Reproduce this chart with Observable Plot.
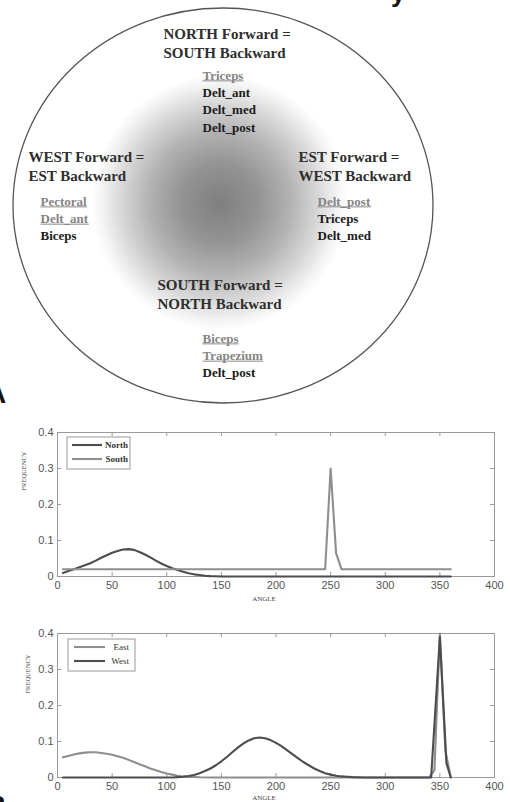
<!DOCTYPE html>
<html><head><meta charset="utf-8">
<script src="https://cdn.jsdelivr.net/npm/d3@7"></script>
<script src="https://cdn.jsdelivr.net/npm/@observablehq/plot@0.6"></script>
<style>
html,body{margin:0;padding:0;background:#fff;overflow:hidden;}
#page{position:relative;width:510px;height:802px;overflow:hidden;background:#fff;}
.abs{position:absolute;left:0;}
.frag{position:absolute;font-family:"Liberation Sans",Arial,sans-serif;font-weight:bold;color:#111;}
</style></head>
<body><div id="page"></div>
<script>
// ---------- DATA ----------
const directions = ["NORTH", "WEST", "EST", "SOUTH"];
const titleLine1 = ["NORTH Forward =", "WEST Forward =", "EST Forward =", "SOUTH Forward ="];
const titleLine2 = ["SOUTH Backward", "EST Backward", "WEST Backward", "NORTH Backward"];
const muscles = [
  ["Triceps", "Delt_ant", "Delt_med", "Delt_post"],
  ["Pectoral", "Delt_ant", "Biceps"],
  ["Delt_post", "Triceps", "Delt_med"],
  ["Biceps", "Trapezium", "Delt_post"]
];
const underlined = [
  [true, false, false, false],
  [true, true, false],
  [true, false, false],
  [true, true, false]
];

const xTicks = [0, 50, 100, 150, 200, 250, 300, 350, 400];
const yTicks = [0, 0.1, 0.2, 0.3, 0.4];

const northAngle = [5,10,15,20,25,30,35,40,45,50,55,60,65,70,75,80,85,90,95,100,105,110,115,120,125,130,135,140,145,150,360];
const northFreq  = [0.010,0.015,0.020,0.026,0.031,0.037,0.044,0.052,0.059,0.066,0.071,0.075,0.076,0.074,0.068,0.061,0.053,0.044,0.036,0.029,0.023,0.018,0.013,0.009,0.006,0.004,0.002,0.001,0.0005,0,0];
const southAngle = [5,245,250,255,260,360];
const southFreq  = [0.02,0.02,0.30,0.065,0.02,0.02];

const eastAngle = [5,10,15,20,25,30,35,40,45,50,55,60,65,70,75,80,85,90,95,100,105,110,115,120,130,140,340,345,350,355,360];
const eastFreq  = [0.056,0.060,0.064,0.067,0.069,0.070,0.070,0.068,0.066,0.063,0.059,0.055,0.049,0.043,0.037,0.031,0.025,0.020,0.015,0.011,0.008,0.005,0.003,0.002,0.0005,0,0,0.02,0.40,0.075,0];
const westAngle = [5,105,110,115,120,125,130,135,140,145,150,155,160,165,170,175,180,185,190,195,200,205,210,215,220,225,230,235,240,245,250,255,260,265,270,280,342,350,356,360];
const westFreq  = [0,0,0.001,0.002,0.004,0.007,0.012,0.018,0.025,0.034,0.045,0.057,0.070,0.083,0.094,0.103,0.109,0.111,0.109,0.104,0.096,0.087,0.076,0.065,0.054,0.043,0.034,0.025,0.018,0.012,0.008,0.005,0.003,0.002,0.001,0,0,0.39,0.04,0];

// ---------- LAYOUT ----------
const page = document.getElementById("page");
const serif = "'Liberation Serif','Times New Roman',serif";
const greyText = "#858585";
const groupLayout = {
  NORTH: {tx: 163, ty: 34, mx: 202, my: 75},
  WEST:  {tx: 28,  ty: 157, mx: 40, my: 201},
  EST:   {tx: 298, ty: 157, mx: 317, my: 201},
  SOUTH: {tx: 157, ty: 285, mx: 202, my: 338}
};
const titleGap = 18.5, muscleGap = 17.3;

const titleRows = [], muscleRows = [];
directions.forEach((d, i) => {
  const L = groupLayout[d];
  titleRows.push({x: L.tx, y: L.ty, text: titleLine1[i]});
  titleRows.push({x: L.tx, y: L.ty + titleGap, text: titleLine2[i]});
  muscles[i].forEach((m, j) => muscleRows.push({x: L.mx, y: L.my + j * muscleGap, text: m, u: underlined[i][j]}));
});

const diagram = Plot.plot({
  width: 510, height: 405, margin: 0,
  style: {background: "transparent", overflow: "visible"},
  x: {domain: [0, 510], range: [0, 510], axis: null},
  y: {domain: [0, 405], range: [0, 405], axis: null},
  marks: [
    Plot.dot([{x: 219, y: 202}], {x: "x", y: "y", r: 128, fill: "url(#glow)", stroke: "none"}),
    Plot.text(titleRows, {x: "x", y: "y", text: "text", textAnchor: "start", lineAnchor: "middle",
      fontFamily: serif, fontWeight: "bold", fontSize: 15, fill: "#2e2e2e"}),
    Plot.text(muscleRows.filter(d => !d.u), {x: "x", y: "y", text: "text", textAnchor: "start", lineAnchor: "middle",
      fontFamily: serif, fontWeight: "bold", fontSize: 13, fill: "#1c1c1c"}),
    Plot.text(muscleRows.filter(d => d.u), {x: "x", y: "y", text: "text", textAnchor: "start", lineAnchor: "middle",
      fontFamily: serif, fontWeight: "bold", fontSize: 13, fill: greyText})
  ]
});
diagram.classList.add("abs");
diagram.style.top = "0px";
page.appendChild(diagram);
{
  const s = d3.select(diagram);
  const defs = s.insert("defs", ":first-child");
  const g = defs.append("radialGradient").attr("id", "glow");
  [[0, "#7f7f7f"], [0.3, "#939393"], [0.55, "#b2b2b2"], [0.78, "#d9d9d9"], [0.92, "#f3f3f3"], [1, "#ffffff"]].forEach(([o, c]) =>
    g.append("stop").attr("offset", o).attr("stop-color", c));
  s.insert("ellipse", "defs + *").attr("cx", 223).attr("cy", 205.5).attr("rx", 210).attr("ry", 197.5)
    .attr("fill", "none").attr("stroke", "#555").attr("stroke-width", 1.3);
  // underline the grey muscle names (measured in page pixels)
  const svgRect = diagram.getBoundingClientRect();
  const uGroup = s.append("g").attr("stroke", "#8a8a8a").attr("stroke-width", 1);
  s.selectAll("text").each(function () {
    let el = this, fill = null;
    while (el && el !== diagram) { const f = el.getAttribute && el.getAttribute("fill"); if (f) { fill = f; break; } el = el.parentNode; }
    if (!fill || fill.toLowerCase() !== greyText) return;
    const r = this.getBoundingClientRect();
    const x0 = r.left - svgRect.left, x1 = r.right - svgRect.left;
    const yy = r.top - svgRect.top + 13.2;
    uGroup.append("line").attr("x1", x0).attr("x2", x1).attr("y1", yy).attr("y2", yy);
  });
}

// ---------- CHARTS ----------
function chart(opts) {
  const {names, colors, series, top, height, mt, mb, fyDx, fyDy, angleDy, legend} = opts;
  const rows = [];
  series.forEach((s, k) => s.angle.forEach((a, i) => rows.push({series: names[k], angle: a, freq: s.freq[i]})));
  const W = 510, ml = 57, mr = 16;
  const fw = W - ml - mr, fh = height - mt - mb, t = 4;
  const grid = "#9a9a9a";
  const svg = Plot.plot({
    width: W, height, marginLeft: ml, marginRight: mr, marginTop: mt, marginBottom: mb,
    style: {fontFamily: "'Liberation Sans',Arial,sans-serif", fontSize: "11px", color: "#555", background: "transparent", overflow: "visible"},
    x: {domain: [0, 400], ticks: xTicks, tickSize: 0, tickPadding: 5, tickFormat: d => String(d), label: null},
    y: {domain: [0, 0.4], ticks: yTicks, tickSize: 0, tickPadding: 4, tickFormat: d => d === 0 ? "0" : d.toFixed(1), label: null},
    color: {domain: names, range: colors},
    marks: [
      Plot.frame({stroke: grid}),
      Plot.ruleX(xTicks, {x: d => d, insetTop: fh - t, stroke: grid}),
      Plot.ruleX(xTicks, {x: d => d, insetBottom: fh - t, stroke: grid}),
      Plot.ruleY(yTicks, {y: d => d, insetRight: fw - t, stroke: grid}),
      Plot.ruleY(yTicks, {y: d => d, insetLeft: fw - t, stroke: grid}),
      Plot.line(rows, {x: "angle", y: "freq", z: "series", stroke: "series", strokeWidth: 2.1}),
      Plot.text(["ANGLE"], {frameAnchor: "bottom", dy: angleDy, dx: -12, text: d => d, fontFamily: serif, fontSize: 7, fill: "#444", lineAnchor: "middle"}),
      Plot.text(["FREQUENCY"], {frameAnchor: "left", dx: fyDx, dy: fyDy, rotate: -90, text: d => d, fontFamily: serif, fontSize: 6.5, fill: "#444", lineAnchor: "middle"})
    ]
  });
  svg.classList.add("abs");
  svg.style.top = top + "px";
  const s = d3.select(svg);
  const g = s.append("g");
  const b = legend.box;
  g.append("rect").attr("x", b.x).attr("y", b.y).attr("width", b.w).attr("height", b.h)
    .attr("fill", "#fff").attr("stroke", "#999").attr("stroke-width", 1);
  names.forEach((n, i) => {
    const y = legend.ys[i];
    g.append("line").attr("x1", legend.x1).attr("x2", legend.x2).attr("y1", y).attr("y2", y)
      .attr("stroke", colors[i]).attr("stroke-width", 2.1);
    g.append("text").attr("x", legend.tx).attr("y", y).attr("dy", "0.33em").attr("text-anchor", "end")
      .attr("font-family", serif).attr("font-size", 9).attr("font-weight", legend.weight).attr("fill", "#333").text(n);
  });
  page.appendChild(svg);
}

chart({
  names: ["North", "South"], colors: ["#4d4d4d", "#8e8e8e"],
  series: [{angle: northAngle, freq: northFreq}, {angle: southAngle, freq: southFreq}],
  top: 405, height: 200, mt: 27, mb: 29, fyDx: -34, fyDy: -14, angleDy: 22,
  legend: {box: {x: 67, y: 32, w: 63, h: 32}, x1: 72, x2: 102, ys: [40, 54], tx: 128, weight: "bold"}
});
chart({
  names: ["East", "West"], colors: ["#8e8e8e", "#4d4d4d"],
  series: [{angle: eastAngle, freq: eastFreq}, {angle: westAngle, freq: westFreq}],
  top: 605, height: 197, mt: 28, mb: 25, fyDx: -30, fyDy: -12, angleDy: 20,
  legend: {box: {x: 68, y: 34, w: 67, h: 32}, x1: 74, x2: 105, ys: [42, 56], tx: 129, weight: "normal"}
});

// cropped panel letters at the edges of the figure
const frags = [
  {t: "A", left: -14, top: 378, size: 28},
  {t: "B", left: -14, top: 790, size: 28},
  {t: "y", left: 391, top: -22, size: 26}
];
frags.forEach(f => {
  const d = document.createElement("div");
  d.className = "frag";
  d.textContent = f.t;
  d.style.left = f.left + "px"; d.style.top = f.top + "px"; d.style.fontSize = f.size + "px";
  page.appendChild(d);
});
</script>
</body></html>
